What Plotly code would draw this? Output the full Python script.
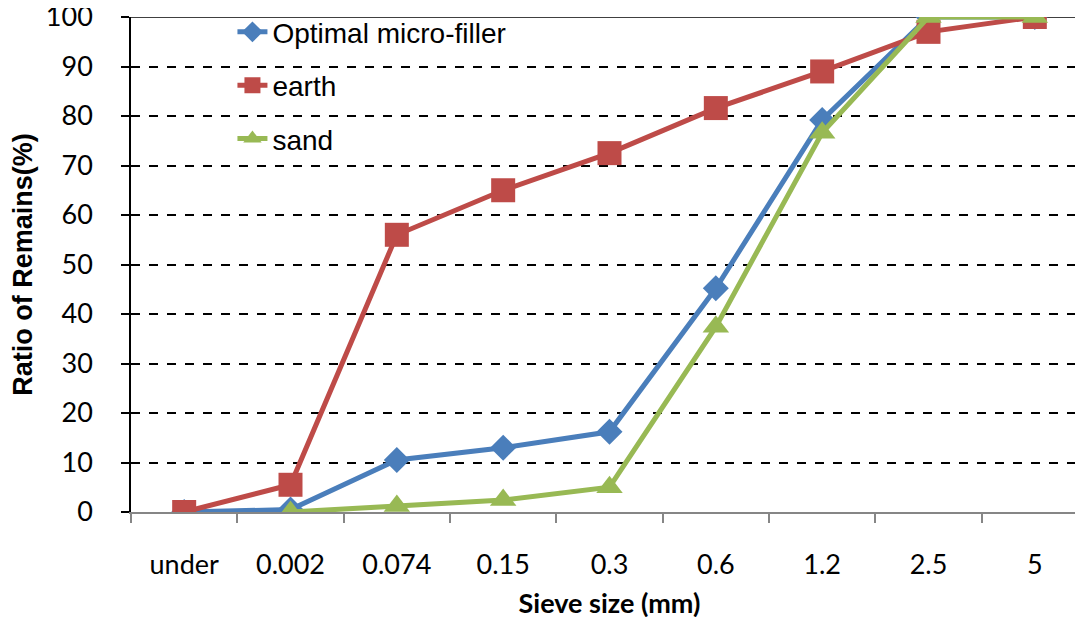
import plotly.graph_objects as go

sieve_sizes = ["under", "0.002", "0.074", "0.15", "0.3", "0.6", "1.2", "2.5", "5"]
optimal_micro_filler = [0, 0.5, 10.5, 13.0, 16.2, 45.2, 79.2, 100, 100]
earth = [0, 5.5, 56, 65, 72.5, 81.6, 89.0, 97, 100]
sand = [None, 0, 1.2, 2.4, 5.0, 37.4, 76.6, 100, 100]

series_names = ["Optimal micro-filler", "earth", "sand"]
y_ticks = list(range(0, 101, 10))

BLUE = "#4A7EBB"
RED = "#BE4B48"
GREEN = "#98B954"

fig = go.Figure()
fig.add_trace(go.Scatter(
    x=sieve_sizes, y=optimal_micro_filler, name=series_names[0], legendgroup="a",
    mode="lines+markers", line=dict(color=BLUE, width=5),
    marker=dict(symbol="diamond", size=20, color=BLUE),
))
fig.add_trace(go.Scatter(
    x=sieve_sizes, y=earth, name=series_names[1], legendgroup="b",
    mode="lines+markers", line=dict(color=RED, width=5),
    marker=dict(symbol="square", size=24, color=RED),
))
fig.add_trace(go.Scatter(
    x=sieve_sizes, y=sand, name=series_names[2], legendgroup="c",
    mode="lines+markers", line=dict(color=GREEN, width=5),
    marker=dict(symbol="triangle-up", size=23, color=GREEN),
))

fig.add_shape(type="line", xref="paper", yref="y", x0=0, x1=1, y0=100, y1=100,
              line=dict(color="black", width=1.5), layer="below")

fig.update_layout(
    width=1083, height=617,
    margin=dict(l=123, r=3, t=9, b=113, autoexpand=False),
    paper_bgcolor="white", plot_bgcolor="white",
    showlegend=True,
    legend=dict(
        x=0.106, y=1.02, xanchor="left", yanchor="top",
        font=dict(family="Liberation Sans, Arial", size=28, color="black"),
        bgcolor="rgba(0,0,0,0)", traceorder="grouped", tracegroupgap=14,
    ),
    xaxis=dict(
        type="category", range=[-0.5, 8.5], automargin=False,
        showline=True, linecolor="#868686", linewidth=1.5,
        ticks="outside", tickson="boundaries", ticklen=9, tickcolor="#868686", tickwidth=1.5,
        tickfont=dict(family="Lato, Carlito, sans-serif", size=27, color="black"),
        ticklabelstandoff=28, ticklabeloverflow="allow",
        showgrid=False, zeroline=False,
        title=dict(text="<b>Sieve size (mm)</b>", standoff=15,
                   font=dict(family="Lato, sans-serif", size=27, color="black")),
    ),
    yaxis=dict(
        range=[0, 100], tickvals=y_ticks, automargin=False,
        showline=True, linecolor="black", linewidth=1.5,
        ticks="outside", ticklen=8, tickcolor="black", tickwidth=1.5,
        tickfont=dict(family="Lato, Carlito, sans-serif", size=27, color="black"),
        ticklabelstandoff=23, ticklabeloverflow="allow",
        showgrid=True, gridcolor="black", gridwidth=1.5, griddash="dash",
        zeroline=False,
        title=dict(text="<b>Ratio of Remains(%)</b>", standoff=30,
                   font=dict(family="Liberation Sans, Arial", size=27, color="black")),
    ),
)

fig.write_html("out.html")
